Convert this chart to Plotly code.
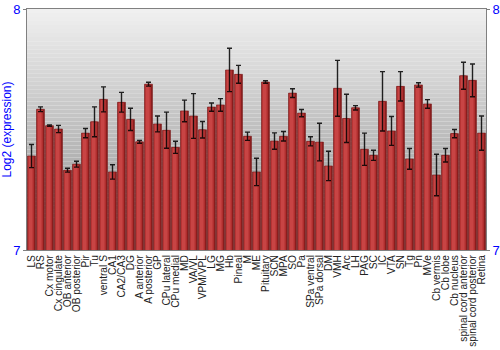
import plotly.graph_objects as go

categories = ["LS", "RS", "Cx motor", "Cx cingulate", "OB anterior", "OB posterior", "Pir", "Tu",
              "ventral S", "CA1", "CA2/CA3", "DG", "A anterior", "A posterior", "GP", "CPu lateral",
              "CPu medial", "MD", "VA/VL", "VPM/VPL", "LG", "MG", "Hb", "Pineal", "M", "ME",
              "Pituitary", "SCN", "MPA", "SO", "Pa", "SPa ventral", "SPa dorsal", "DM", "VMH", "Arc",
              "LH", "PAG", "SC", "IC", "VTA", "SN", "Tg", "Pn", "MVe", "Cb vermis", "Cb lobe",
              "Cb nucleus", "spinal cord anterior", "spinal cord posterior", "Retina"]

values = [7.390, 7.584, 7.516, 7.502, 7.331, 7.356, 7.485, 7.532,
          7.625, 7.324, 7.613, 7.542, 7.449, 7.688, 7.523, 7.497,
          7.426, 7.577, 7.556, 7.499, 7.593, 7.602, 7.747, 7.729, 7.472, 7.324,
          7.697, 7.452, 7.472, 7.651, 7.568, 7.451, 7.448, 7.349, 7.671, 7.546,
          7.590, 7.418, 7.393, 7.617, 7.494, 7.679, 7.378, 7.685, 7.606, 7.311, 7.393,
          7.483, 7.723, 7.704, 7.485]

errors = [0.048, 0.010, 0.003, 0.015, 0.008, 0.012, 0.019, 0.062,
          0.052, 0.030, 0.041, 0.046, 0.006, 0.008, 0.033, 0.075,
          0.025, 0.045, 0.093, 0.034, 0.017, 0.026, 0.090, 0.037, 0.017, 0.057,
          0.005, 0.034, 0.020, 0.018, 0.015, 0.019, 0.078, 0.061, 0.116, 0.100,
          0.009, 0.067, 0.021, 0.123, 0.060, 0.061, 0.043, 0.009, 0.018, 0.086, 0.028,
          0.017, 0.056, 0.068, 0.071]

y_range = [7, 8]
y_ticks = [7, 8]

fig = go.Figure()

base_w = 0.88
# pseudo-gradient bars: dark outer, lighter inner layers
layers = [
    (base_w, 0.0, "#8a1e1e"),
    (base_w * 0.78, -0.06, "#b02e2e"),
    (base_w * 0.5, -0.1, "#c84444"),
]
for w, off, col in layers:
    fig.add_trace(go.Bar(
        x=categories, y=values, width=w, offset=-base_w / 2 + (base_w - w) / 2 + off,
        marker=dict(color=col, line=dict(width=0)),
        hoverinfo="skip", showlegend=False,
    ))

fig.add_trace(go.Bar(
    x=categories, y=values, width=base_w, offset=-base_w / 2,
    marker=dict(color="rgba(0,0,0,0)", line=dict(width=0.6, color="#7a1a1a")),
    error_y=dict(type="data", array=errors, visible=True, color="rgba(0,0,0,0.85)",
                 thickness=1.4, width=2.5),
    showlegend=False,
))

fig.add_trace(go.Scatter(x=[categories[0]], y=[7.5], yaxis="y2", mode="markers",
                         marker=dict(opacity=0), hoverinfo="skip", showlegend=False))

# background gradient
shapes = []
n = 60
top = (0xf0, 0xf0, 0xf0)
bot = (0x8e, 0x8e, 0x8e)
for i in range(n):
    t = i / (n - 1)
    c = tuple(int(round(top[k] + (bot[k] - top[k]) * t)) for k in range(3))
    shapes.append(dict(type="rect", xref="paper", yref="paper", x0=0, x1=1,
                       y0=1 - (i + 1) / n, y1=1 - i / n, layer="below",
                       fillcolor="rgb(%d,%d,%d)" % c, line=dict(width=0)))

fig.update_layout(
    width=500, height=350, autosize=False,
    margin=dict(l=27, r=14, t=9, b=100),
    barmode="overlay", bargap=0.12,
    paper_bgcolor="white", plot_bgcolor="rgba(0,0,0,0)",
    shapes=shapes,
    font=dict(family="Liberation Sans, Arial, sans-serif"),
    xaxis=dict(tickangle=-90, tickfont=dict(size=10.2, color="#222222"),
               showgrid=False,
               tickmode="array", tickvals=categories, ticktext=categories, automargin=False,
               showline=True, linecolor="#808080", linewidth=1, mirror=True, ticks="",
               range=[-0.5, len(categories) - 0.5], ticklen=0),
    yaxis=dict(range=y_range, tickvals=y_ticks, ticktext=[str(v) for v in y_ticks],
               tickfont=dict(size=13, color="blue"), showgrid=False, zeroline=False,
               automargin=False,
               showline=True, linecolor="#808080", linewidth=1, ticks="outside",
               ticklen=3, tickcolor="#808080",
               title=dict(text="Log2 (expression)", font=dict(size=12, color="blue"), standoff=4)),
    yaxis2=dict(range=y_range, tickvals=y_ticks, ticktext=[str(v) for v in y_ticks],
                overlaying="y", side="right", tickfont=dict(size=13, color="blue"),
                automargin=False,
                showgrid=False, zeroline=False, showline=True, linecolor="#808080",
                ticks="outside", ticklen=3, tickcolor="#808080"),
)

fig.write_html("out.html")
